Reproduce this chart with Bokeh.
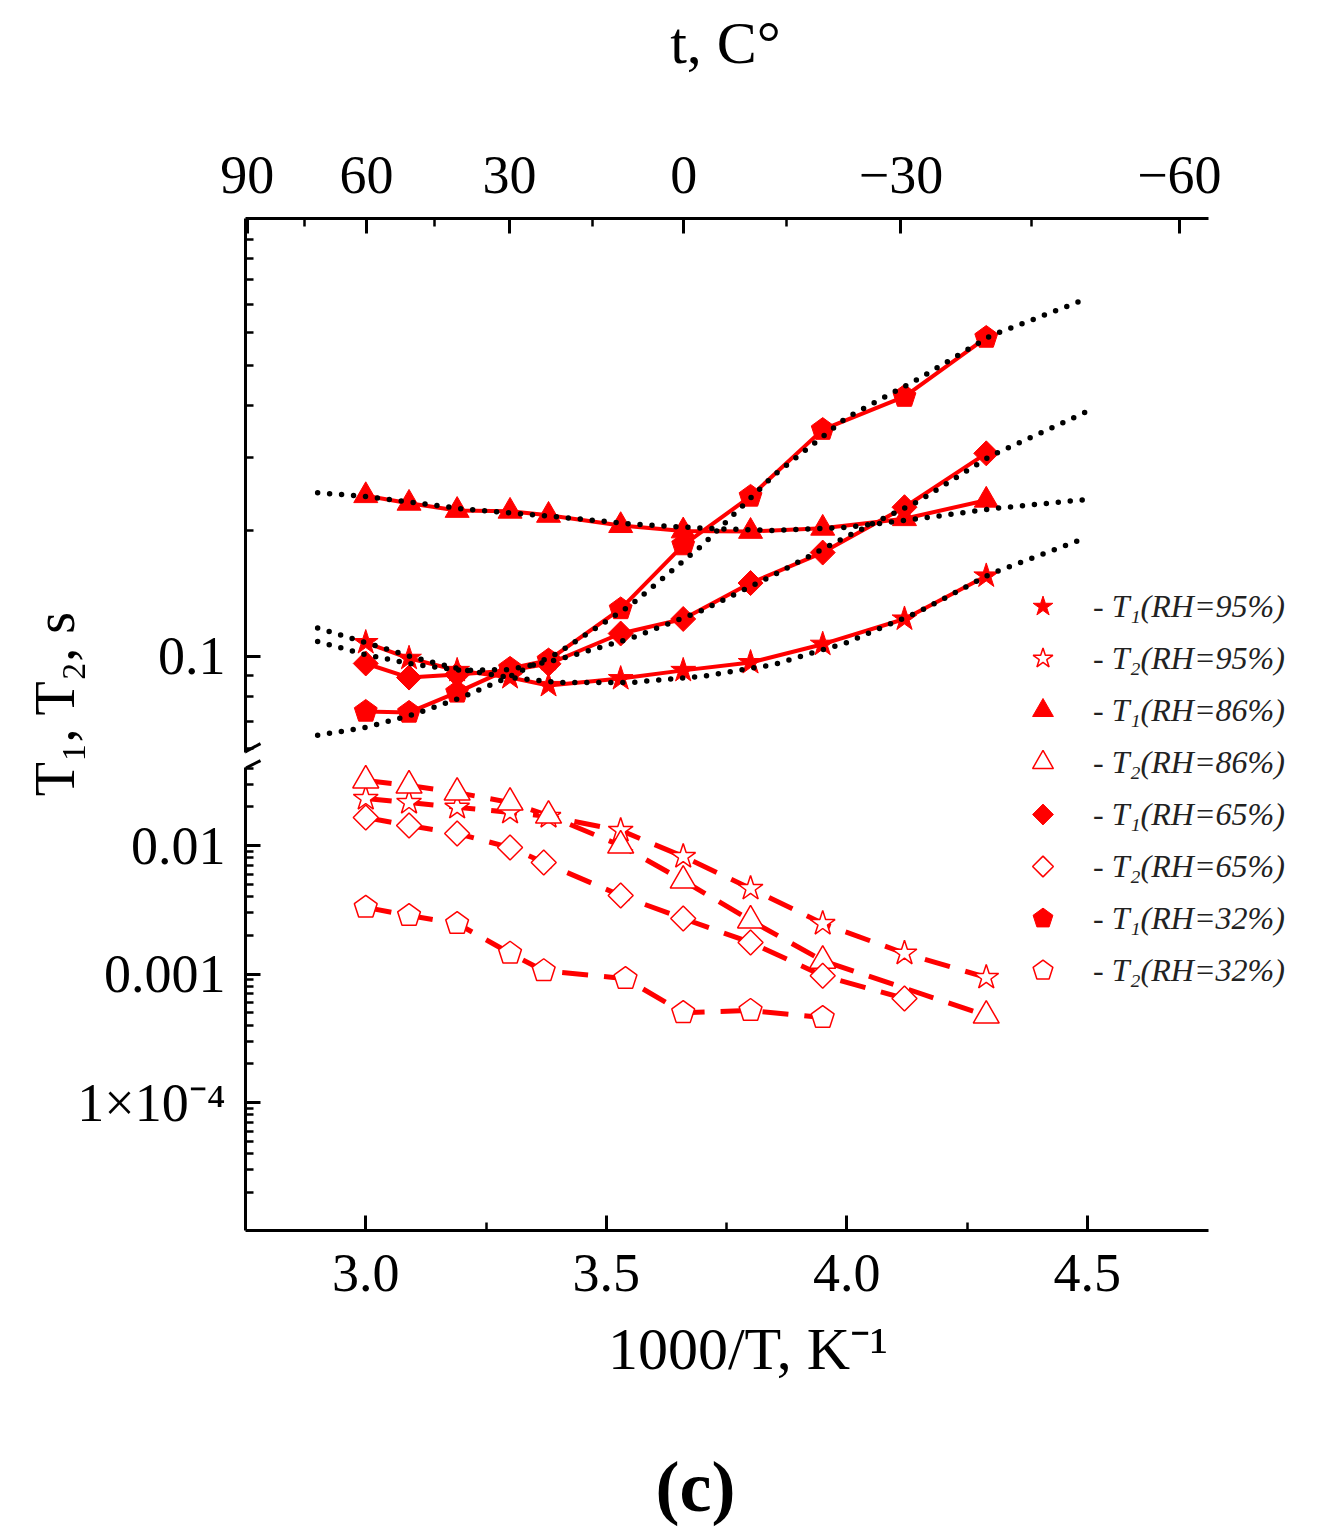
from math import log10

from bokeh.embed import file_html
from bokeh.models import (Arrow, FixedTicker, Legend, LegendItem, LinearAxis, LogAxis,
                          LogScale, NumeralTickFormatter, Range1d, Title)
from bokeh.plotting import figure
from bokeh.resources import INLINE

FONT = "Liberation Serif"
RED = "#ff0000"
NBSP = "\u00a0"

# 1000/T, K^-1 of the measurements
x_all = [3.00, 3.09, 3.19, 3.30, 3.38, 3.53, 3.66, 3.80, 3.95, 4.12, 4.29]

# T1, s (upper part of the axis)
t1_rh95 = [0.108, 0.099, 0.0926, 0.089, 0.0852, 0.0885, 0.0926, 0.0967, 0.107, 0.123, 0.156]
t1_rh86 = [0.243, 0.233, 0.224, 0.223, 0.218, 0.206, 0.200, 0.1995, 0.203, 0.214, 0.237]
t1_rh65 = [0.0962, 0.089, 0.0905, 0.0926, 0.096, 0.1135, 0.123, 0.150, 0.1775, 0.228, 0.307]
t1_rh32 = [0.0738, 0.0734, 0.082, 0.0936, 0.098, 0.130, 0.185, 0.242, 0.350, 0.420, 0.582]

# fitted curves (dotted)
fit_x = [2.90, 3.00, 3.10, 3.20, 3.30, 3.40, 3.55, 3.70, 3.85, 4.00, 4.15, 4.30, 4.50]
fit_rh95 = [0.117, 0.108, 0.0994, 0.093, 0.089, 0.0866, 0.0866, 0.0896, 0.0957, 0.108, 0.128, 0.158, 0.193]
fit_rh86 = [0.247, 0.242, 0.234, 0.226, 0.221, 0.216, 0.208, 0.203, 0.2005, 0.204, 0.214, 0.226, 0.238]
fit_rh65 = [0.1086, 0.101, 0.0957, 0.0926, 0.093, 0.0983, 0.1104, 0.129, 0.1572, 0.194, 0.236, 0.303, 0.387]
fit_rh32 = [0.0647, 0.0676, 0.0726, 0.0798, 0.0896, 0.102, 0.1325, 0.185, 0.273, 0.374, 0.464, 0.588, 0.722]

# T2, s (lower part of the axis)
x_t2_95 = [3.00, 3.09, 3.19, 3.30, 3.38, 3.53, 3.66, 3.80, 3.95, 4.12, 4.29]
t2_rh95 = [0.0232, 0.0216, 0.0198, 0.0181, 0.0168, 0.0131, 0.0082, 0.00463, 0.00247, 0.00145, 0.00094]
x_t2_86 = [3.00, 3.09, 3.19, 3.30, 3.38, 3.53, 3.66, 3.80, 3.95, 4.29]
t2_rh86 = [0.0321, 0.0293, 0.0258, 0.0216, 0.0171, 0.0100, 0.00534, 0.00261, 0.00127, 0.000475]
x_t2_65 = [3.00, 3.09, 3.19, 3.30, 3.37, 3.53, 3.66, 3.80, 3.95, 4.12]
t2_rh65 = [0.0165, 0.0143, 0.0124, 0.00965, 0.00738, 0.00408, 0.0027, 0.00176, 0.00097, 0.000645]
x_t2_32 = [3.00, 3.09, 3.19, 3.30, 3.37, 3.54, 3.66, 3.80, 3.95]
t2_rh32 = [0.0033, 0.00285, 0.00247, 0.00145, 0.00106, 0.00092, 0.0005, 0.00052, 0.000458]

# ticks
x_major = [3.0, 3.5, 4.0, 4.5]
x_minor = [3.25, 3.75, 4.25]
t_major = [90, 60, 30, 0, -30, -60]
t_labels = ["90", "60", "30", "0", "\u221230", "\u221260"]
t_minor = [75, 45, 15, -15, -45]
up_major = [0.1]
up_minor = [0.06, 0.07, 0.08, 0.09, 0.2, 0.3, 0.4, 0.5, 0.6, 0.7, 0.8, 0.9, 1.0]
low_major = [1e-4, 1e-3, 1e-2]
low_labels = ["1\u00d710\u207b\u2074", "0.001", "0.01"]
low_minor = [k * 10.0 ** e for e in (-5, -4, -3) for k in range(2, 10)] + [0.02, 0.03, 0.04]

# the y axis is broken: upper part for T1, lower part for T2
UP_START, UP_END = 0.0042, 1.123
LOW_START, LOW_END = 1.009e-5, 757.5
UP_BOUNDS = (0.0589, UP_END)
LOW_BOUNDS = (LOW_START, 0.0405)
X_START, X_END = 2.75, 4.9641   # frame runs on under the legend, axes stop at 4.752
X_BOUNDS = (2.75, 4.752)

p = figure(frame_width=1065, frame_height=1012, x_range=Range1d(X_START, X_END),
           y_range=Range1d(UP_START, UP_END), y_axis_type="log",
           output_backend="svg", toolbar_location=None,
           min_border_left=245, min_border_right=6,
           min_border_top=218, min_border_bottom=300)
p.extra_y_ranges = {"low": Range1d(LOW_START, LOW_END)}
p.extra_y_scales = {"low": LogScale()}
p.xgrid.visible = False
p.ygrid.visible = False
p.outline_line_color = None
p.background_fill_color = "white"


def style_axis(ax, size="54px"):
    ax.axis_line_width = 3
    ax.axis_line_color = "black"
    ax.major_tick_line_width = 3
    ax.minor_tick_line_width = 2.5
    ax.major_tick_in = 15
    ax.major_tick_out = 0
    ax.minor_tick_in = 8
    ax.minor_tick_out = 0
    ax.major_label_text_font = FONT
    ax.major_label_text_font_size = size
    ax.major_label_text_color = "black"
    ax.axis_label_text_font = FONT
    ax.axis_label_text_font_style = "normal"
    ax.axis_label_text_font_size = "60px"
    ax.axis_label_text_color = "black"


# bottom axis
xa = p.xaxis[0]
xa.ticker = FixedTicker(ticks=x_major, minor_ticks=x_minor)
xa.formatter = NumeralTickFormatter(format="0.0")
xa.bounds = X_BOUNDS
style_axis(xa)
xa.major_label_standoff = 24
xa.axis_label = "1000/T, K\u207b\u00b9" + NBSP * 4   # padding moves the label left
xa.axis_label_standoff = 22

# top axis, temperature in C
top_pos = [1000.0 / (t + 273.15) for t in t_major]
ta = LinearAxis(ticker=FixedTicker(ticks=top_pos,
                                   minor_ticks=[1000.0 / (t + 273.15) for t in t_minor]),
                major_label_overrides=dict(zip(top_pos, t_labels)), bounds=X_BOUNDS)
style_axis(ta)
ta.major_label_standoff = 26
ta.axis_label = "t, C\u00b0" + NBSP * 7
ta.axis_label_standoff = 78
p.add_layout(ta, "above")

# left axis, upper part: line and ticks only
ya = p.yaxis[0]
ya.ticker = FixedTicker(ticks=up_major, minor_ticks=up_minor)
ya.bounds = UP_BOUNDS
style_axis(ya, size="0px")
ya.major_label_overrides = {0.1: ""}
ya.major_label_standoff = 0

# left axis, lower part: line and ticks only
la = LogAxis(y_range_name="low", ticker=FixedTicker(ticks=low_major, minor_ticks=low_minor),
             bounds=LOW_BOUNDS, major_label_overrides={v: "" for v in low_major})
style_axis(la, size="0px")
la.major_label_standoff = 0
p.add_layout(la, "left")

# left labels of both parts, placed on the lower scale
frac = log10(up_major[0] / UP_START) / log10(UP_END / UP_START)
pos_01 = LOW_START * (LOW_END / LOW_START) ** frac
lab_ticks = low_major + [pos_01]
lab = LogAxis(y_range_name="low", ticker=FixedTicker(ticks=lab_ticks, minor_ticks=[]),
              major_label_overrides=dict(zip(lab_ticks, low_labels + ["0.1"])))
style_axis(lab)
lab.axis_line_color = None
lab.major_tick_in = 0
lab.major_label_standoff = 20
lab.axis_label = NBSP * 3 + "T\u2081, T\u2082, s"
lab.axis_label_text_font_size = "56px"
lab.axis_label_standoff = -12
p.add_layout(lab, "left")

# T1: solid lines with filled markers
for ys in (t1_rh95, t1_rh86, t1_rh65, t1_rh32):
    p.line(x_all, ys, line_color=RED, line_width=4)
r_t1_95 = p.scatter(x_all, t1_rh95, marker="star", size=26, fill_color=RED, line_color=RED)
r_t1_86 = p.scatter(x_all, t1_rh86, marker="triangle", size=24, fill_color=RED, line_color=RED)
r_t1_65 = p.ngon(x_all, t1_rh65, radius=12.5, radius_units="screen", n=4,
                 fill_color=RED, line_color=RED)
r_t1_32 = p.ngon(x_all, t1_rh32, radius=12, radius_units="screen", n=5,
                 fill_color=RED, line_color=RED)

# fits
for fy in (fit_rh95, fit_rh86, fit_rh65, fit_rh32):
    p.line(fit_x, fy, line_color="black", line_width=5.5, line_dash="0 12", line_cap="round")

# T2: dashed lines with open markers
for xs, ys in ((x_t2_95, t2_rh95), (x_t2_86, t2_rh86), (x_t2_65, t2_rh65), (x_t2_32, t2_rh32)):
    p.line(xs, ys, line_color=RED, line_width=5, line_dash="26 16", y_range_name="low")
r_t2_95 = p.scatter(x_t2_95, t2_rh95, marker="star", size=26, fill_color="white",
                    line_color=RED, line_width=1.5, y_range_name="low")
r_t2_86 = p.scatter(x_t2_86, t2_rh86, marker="triangle", size=26, fill_color="white",
                    line_color=RED, line_width=1.5, y_range_name="low")
r_t2_65 = p.ngon(x_t2_65, t2_rh65, radius=12.5, radius_units="screen", n=4, fill_color="white",
                 line_color=RED, line_width=1.5, y_range_name="low")
r_t2_32 = p.ngon(x_t2_32, t2_rh32, radius=12, radius_units="screen", n=5, fill_color="white",
                 line_color=RED, line_width=1.5, y_range_name="low")

# axis break marks
p.add_layout(Arrow(end=None, x_start=2.7126, y_start=0.0560, x_end=2.7812, y_end=0.0618,
                   line_width=3, line_color="black"))
p.add_layout(Arrow(end=None, x_start=2.7126, y_start=0.0338, x_end=2.7812, y_end=0.0458,
                   line_width=3, line_color="black", y_range_name="low"))

# legend
items = [
    ("- T\u2081(RH=95%)", r_t1_95), ("- T\u2082(RH=95%)", r_t2_95),
    ("- T\u2081(RH=86%)", r_t1_86), ("- T\u2082(RH=86%)", r_t2_86),
    ("- T\u2081(RH=65%)", r_t1_65), ("- T\u2082(RH=65%)", r_t2_65),
    ("- T\u2081(RH=32%)", r_t1_32), ("- T\u2082(RH=32%)", r_t2_32),
]
legend = Legend(items=[LegendItem(label=t, renderers=[r]) for t, r in items],
                location=(770, 234), glyph_width=55, glyph_height=52, label_height=52,
                label_standoff=23, spacing=0, padding=0, margin=0,
                background_fill_alpha=0, border_line_color=None,
                label_text_font=FONT, label_text_font_style="italic",
                label_text_font_size="32px", label_text_color="#222222")
p.add_layout(legend)

# panel letter
p.add_layout(Title(text="(c)", align="left", offset=410, standoff=120, text_font=FONT,
                   text_font_style="bold", text_font_size="72px", text_color="black"),
             "below")

open("out.html", "w").write(file_html(p, INLINE))
